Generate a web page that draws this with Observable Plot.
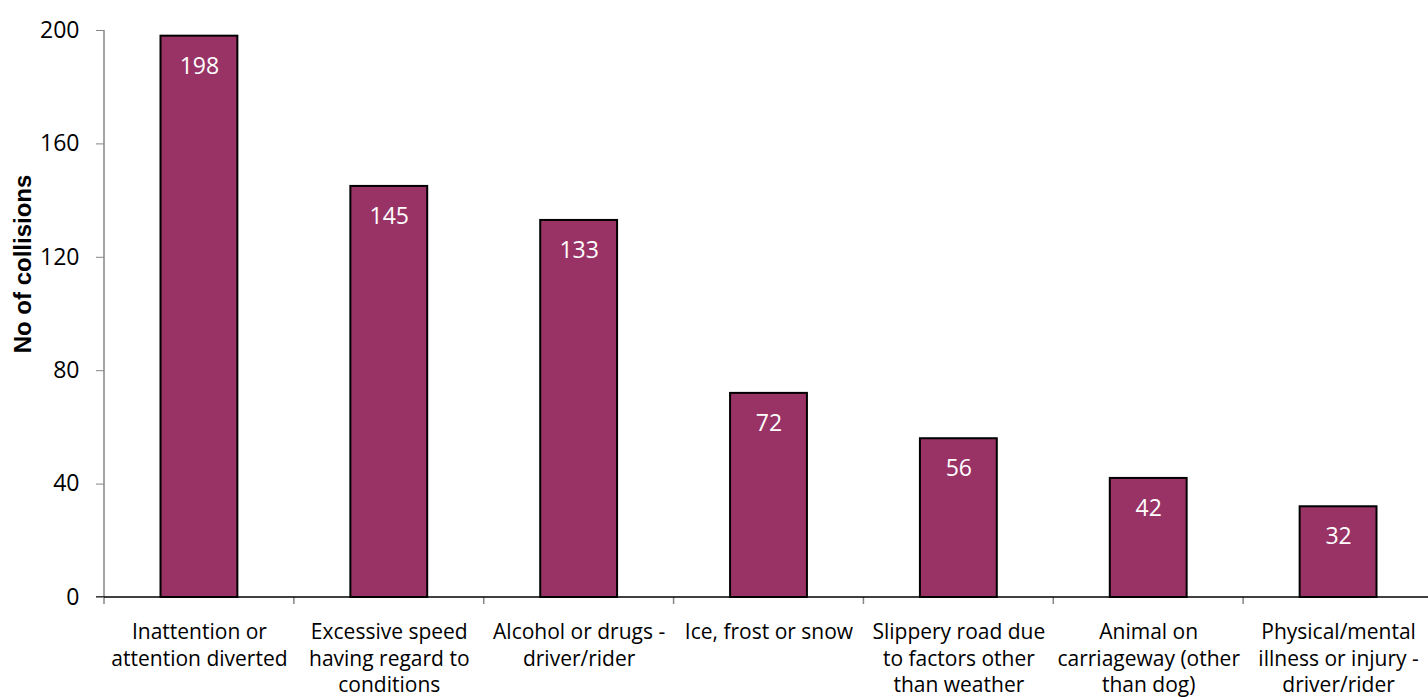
<!DOCTYPE html>
<html>
<head>
<meta charset="utf-8">
<script src="https://cdn.jsdelivr.net/npm/d3@7"></script>
<script src="https://cdn.jsdelivr.net/npm/@observablehq/plot@0.6"></script>
<style>
  html, body { margin: 0; padding: 0; background: #fff; overflow: hidden; }
  #chart svg { display: block; }
</style>
</head>
<body>
<div id="chart"></div>
<script>
// Contributory factors in collisions
const categories = [
  "Inattention or\nattention diverted",
  "Excessive speed\nhaving regard to\nconditions",
  "Alcohol or drugs -\ndriver/rider",
  "Ice, frost or snow",
  "Slippery road due\nto factors other\nthan weather",
  "Animal on\ncarriageway (other\nthan dog)",
  "Physical/mental\nillness or injury -\ndriver/rider"
];
const collisions = [198, 145, 133, 72, 56, 42, 32];
const yTicks = [0, 40, 80, 120, 160, 200];
const yTitle = "No of collisions";

const rows = categories.map((c, i) => ({category: c, value: collisions[i]}));

// Axis lines and category-boundary tick marks, positioned by the plot's scales
function axisLines(index, scales, values, dimensions) {
  const g = d3.create("svg:g");
  const x0 = scales.x(categories[0]);
  const yBase = scales.y(0);
  const yTop = scales.y(d3.max(yTicks));
  const right = dimensions.width;
  // vertical axis line
  g.append("line")
    .attr("x1", x0).attr("x2", x0)
    .attr("y1", yTop).attr("y2", yBase)
    .attr("stroke", "#868686").attr("stroke-width", 1.5);
  // category boundary ticks
  for (const c of categories) {
    const x = scales.x(c);
    g.append("line")
      .attr("x1", x).attr("x2", x)
      .attr("y1", yBase).attr("y2", yBase + 7)
      .attr("stroke", "#868686").attr("stroke-width", 1.5);
  }
  // baseline
  g.append("line")
    .attr("x1", x0 - 8).attr("x2", right)
    .attr("y1", yBase).attr("y2", yBase)
    .attr("stroke", "#000").attr("stroke-width", 1.5);
  return g.node();
}

const chart = Plot.plot({
  width: 1428,
  height: 697,
  marginLeft: 104,
  marginRight: -5,
  marginTop: 30,
  marginBottom: 100,
  style: {fontFamily: "'Open Sans', sans-serif", color: "#000", background: "#fff", overflow: "hidden"},
  x: {domain: categories, padding: 0, round: false},
  y: {domain: [0, 200]},
  marks: [
    Plot.barY(rows, {
      x: "category", y: "value",
      fill: "#993366", stroke: "#000", strokeWidth: 2,
      insetLeft: 56.5, insetRight: 56.5
    }),
    Plot.text(rows, {
      x: "category", y: "value", text: d => String(d.value),
      dy: 30, fill: "#fff", fontSize: 23
    }),
    axisLines,
    Plot.axisY(yTicks, {
      tickSize: 8, tickPadding: 17, fontSize: 23,
      stroke: "#868686", fill: "#000", label: null
    }),
    Plot.axisX({
      tickSize: 0, tickPadding: 23, fontSize: 21, lineHeight: 1.26,
      fill: "#000", label: null
    }),
    Plot.text([yTitle], {
      frameAnchor: "left", textAnchor: "middle", text: d => d, rotate: -90,
      dx: -81, dy: -50, fontSize: 24, fontWeight: "bold",
      fontFamily: "'Liberation Sans', Arial, sans-serif", fill: "#000"
    })
  ]
});

document.getElementById("chart").appendChild(chart);
</script>
</body>
</html>
